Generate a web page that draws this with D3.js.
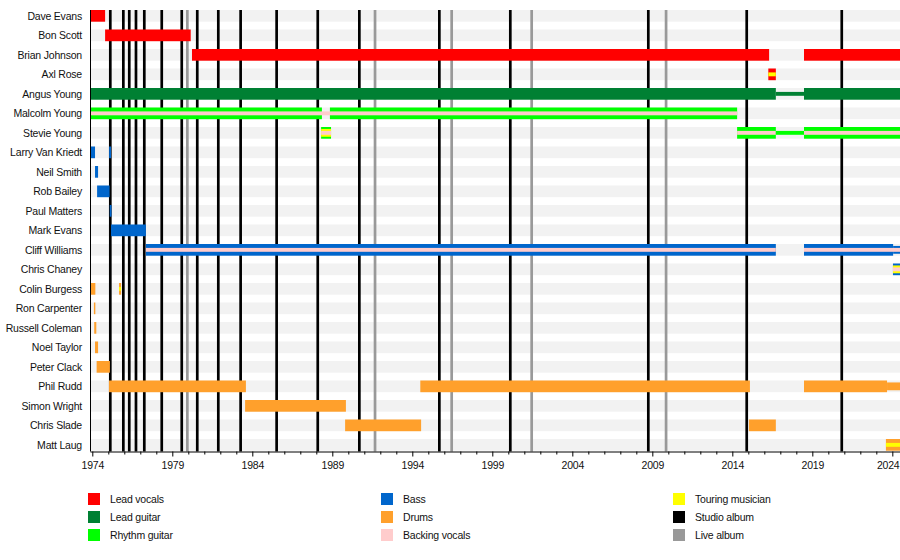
<!DOCTYPE html>
<html>
<head>
<meta charset="utf-8">
<script src="https://cdn.jsdelivr.net/npm/d3@7"></script>
<style>
  html, body { margin: 0; padding: 0; background: #fff; }
  svg { display: block; font-family: "Liberation Sans", Arial, sans-serif; }
</style>
</head>
<body>
<svg id="chart" width="900" height="560"></svg>
<script>
// ---------------- DATA ----------------
const members = [
  "Dave Evans", "Bon Scott", "Brian Johnson", "Axl Rose", "Angus Young",
  "Malcolm Young", "Stevie Young", "Larry Van Kriedt", "Neil Smith", "Rob Bailey",
  "Paul Matters", "Mark Evans", "Cliff Williams", "Chris Chaney", "Colin Burgess",
  "Ron Carpenter", "Russell Coleman", "Noel Taylor", "Peter Clack", "Phil Rudd",
  "Simon Wright", "Chris Slade", "Matt Laug"
];

const roles = ["Lead vocals", "Lead guitar", "Rhythm guitar", "Bass", "Drums", "Backing vocals", "Touring musician"];
const roleColors = ["#ff0000", "#008033", "#00ff00", "#0066cc", "#ffa02c", "#ffcccc", "#ffff00"];
const albumTypes = ["Studio album", "Live album"];
const albumColors = ["#000000", "#999999"];

const START = 1973.856, END = 2024.48;

// segments: [member, role, start, end, size]  size: 1 = full bar, 0.667 = two-thirds, 0.333 = thin stripe
const segments = [
  ["Dave Evans", "Lead vocals", 1973.9, 1974.8, 1],
  ["Bon Scott", "Lead vocals", 1974.8, 1980.15, 1],
  ["Brian Johnson", "Lead vocals", 1980.23, 2016.3, 1],
  ["Brian Johnson", "Lead vocals", 2018.48, END, 1],
  ["Axl Rose", "Lead vocals", 2016.25, 2016.72, 1],
  ["Axl Rose", "Touring musician", 2016.25, 2016.72, 0.333],
  ["Angus Young", "Lead guitar", 1973.9, 2016.72, 1],
  ["Angus Young", "Lead guitar", 2016.72, 2018.48, 0.333],
  ["Angus Young", "Lead guitar", 2018.48, END, 1],
  ["Malcolm Young", "Rhythm guitar", 1973.9, 1988.35, 1],
  ["Malcolm Young", "Rhythm guitar", 1988.85, 2014.3, 1],
  ["Malcolm Young", "Backing vocals", 1973.9, 2014.3, 0.333],
  ["Stevie Young", "Rhythm guitar", 1988.3, 1988.92, 1],
  ["Stevie Young", "Touring musician", 1988.3, 1988.92, 0.667],
  ["Stevie Young", "Backing vocals", 1988.3, 1988.92, 0.333],
  ["Stevie Young", "Rhythm guitar", 2014.3, 2016.72, 1],
  ["Stevie Young", "Backing vocals", 2014.3, 2016.72, 0.333],
  ["Stevie Young", "Rhythm guitar", 2016.72, 2018.48, 0.333],
  ["Stevie Young", "Rhythm guitar", 2018.48, END, 1],
  ["Stevie Young", "Backing vocals", 2018.48, END, 0.333],
  ["Larry Van Kriedt", "Bass", 1973.9, 1974.17, 1],
  ["Larry Van Kriedt", "Bass", 1975.05, 1975.17, 1],
  ["Neil Smith", "Bass", 1974.17, 1974.36, 1],
  ["Rob Bailey", "Bass", 1974.3, 1975.08, 1],
  ["Paul Matters", "Bass", 1975.09, 1975.2, 1],
  ["Mark Evans", "Bass", 1975.17, 1977.35, 1],
  ["Cliff Williams", "Bass", 1977.35, 2016.72, 1],
  ["Cliff Williams", "Backing vocals", 1977.35, 2016.72, 0.333],
  ["Cliff Williams", "Bass", 2018.48, 2024.05, 1],
  ["Cliff Williams", "Bass", 2024.05, END, 0.667],
  ["Cliff Williams", "Backing vocals", 2018.48, END, 0.333],
  ["Chris Chaney", "Bass", 2024.04, END, 1],
  ["Chris Chaney", "Touring musician", 2024.04, END, 0.667],
  ["Chris Chaney", "Backing vocals", 2024.04, END, 0.333],
  ["Colin Burgess", "Drums", 1973.9, 1974.19, 1],
  ["Colin Burgess", "Drums", 1975.67, 1975.8, 1],
  ["Colin Burgess", "Touring musician", 1975.67, 1975.8, 0.333],
  ["Ron Carpenter", "Drums", 1974.1, 1974.19, 1],
  ["Russell Coleman", "Drums", 1974.12, 1974.25, 1],
  ["Noel Taylor", "Drums", 1974.17, 1974.36, 1],
  ["Peter Clack", "Drums", 1974.27, 1975.1, 1],
  ["Phil Rudd", "Drums", 1975.04, 1983.6, 1],
  ["Phil Rudd", "Drums", 1994.5, 2015.1, 1],
  ["Phil Rudd", "Drums", 2018.48, 2023.67, 1],
  ["Phil Rudd", "Drums", 2023.67, END, 0.667],
  ["Simon Wright", "Drums", 1983.55, 1989.85, 1],
  ["Chris Slade", "Drums", 1989.8, 1994.55, 1],
  ["Chris Slade", "Drums", 2015.04, 2016.72, 1],
  ["Matt Laug", "Drums", 2023.6, END, 1],
  ["Matt Laug", "Touring musician", 2023.6, END, 0.333]
];

const studioAlbums = [1975.125, 1975.94, 1976.31, 1976.73, 1977.25, 1978.34, 1979.59, 1980.56,
  1981.875, 1983.27, 1985.52, 1988.09, 1990.69, 1995.69, 2000.125, 2008.75, 2014.9, 2020.84];
const liveAlbums = [1979.94, 1991.67, 1996.46, 2001.46, 2009.86];

const majorTicks = [1974, 1979, 1984, 1989, 1994, 1999, 2004, 2009, 2014, 2019, 2024];
const minorTicks = d3.range(1975, 2025).filter(y => !majorTicks.includes(y));

const legendItems = [
  ["Lead vocals", "#ff0000"], ["Lead guitar", "#008033"], ["Rhythm guitar", "#00ff00"],
  ["Bass", "#0066cc"], ["Drums", "#ffa02c"], ["Backing vocals", "#ffcccc"],
  ["Touring musician", "#ffff00"], ["Studio album", "#000000"], ["Live album", "#999999"]
];

// ---------------- CHART ----------------
const svg = d3.select("#chart");
const color = d3.scaleOrdinal().domain(roles).range(roleColors);
const albumColor = d3.scaleOrdinal().domain(albumTypes).range(albumColors);

const x = d3.scaleLinear().domain([START, END]).range([90, 900]);
const y = d3.scaleBand().domain(members).range([6.1, 454.6]).paddingInner(0.4).paddingOuter(0.2);
const bw = y.bandwidth();
const axisY = 451.5;

// row backgrounds
svg.append("g").selectAll("rect").data(members).join("rect")
  .attr("x", x(START)).attr("width", x(END) - x(START))
  .attr("y", d => y(d)).attr("height", bw)
  .attr("fill", "#f2f2f2");

// album lines
const albums = studioAlbums.map(v => ({v, t: "Studio album"})).concat(liveAlbums.map(v => ({v, t: "Live album"})));
svg.append("g").selectAll("line").data(albums).join("line")
  .attr("x1", d => x(d.v)).attr("x2", d => x(d.v))
  .attr("y1", y(members[0])).attr("y2", axisY)
  .attr("stroke", d => albumColor(d.t)).attr("stroke-width", 2.7);

// bars
svg.append("g").selectAll("rect").data(segments).join("rect")
  .attr("x", d => x(d[2]))
  .attr("width", d => Math.max(1, x(d[3]) - x(d[2])))
  .attr("y", d => y(d[0]) + bw * (1 - d[4]) / 2)
  .attr("height", d => bw * d[4])
  .attr("fill", d => color(d[1]));

// member labels
svg.append("g").selectAll("text").data(members).join("text")
  .attr("x", 82).attr("y", d => y(d) + bw / 2)
  .attr("dy", "0.35em").attr("text-anchor", "end")
  .attr("font-size", 10.5).attr("letter-spacing", -0.2).attr("fill", "#111")
  .text(d => d);

// axis
const axis = d3.axisBottom(x).tickValues(majorTicks).tickFormat(d3.format("d")).tickSize(5).tickSizeOuter(0);
const gAxis = svg.append("g").attr("transform", `translate(0,${axisY})`).call(axis);
gAxis.select(".domain").attr("stroke", "#000");
gAxis.selectAll("text").attr("font-size", 10.5).attr("font-family", "Liberation Sans, Arial, sans-serif")
  .attr("letter-spacing", -0.2).attr("fill", "#111").attr("dy", "0.95em");
// keep the last label inside the picture
gAxis.selectAll(".tick").filter(d => d === majorTicks[majorTicks.length - 1]).select("text")
  .attr("text-anchor", "end").attr("x", 900 - x(majorTicks[majorTicks.length - 1]) - 1);
const minorAxis = d3.axisBottom(x).tickValues(minorTicks).tickFormat("").tickSize(3).tickSizeOuter(0);
const gMinor = svg.append("g").attr("transform", `translate(0,${axisY})`).call(minorAxis);
gMinor.select(".domain").remove();

// left axis line
svg.append("line").attr("x1", 90.5).attr("x2", 90.5).attr("y1", y(members[0])).attr("y2", axisY)
  .attr("stroke", "#000").attr("stroke-width", 1);

// legend
const legendCols = [88, 381, 673];
const legendRows = [493, 511, 529];
const lg = svg.append("g").selectAll("g").data(legendItems).join("g")
  .attr("transform", (d, i) => `translate(${legendCols[Math.floor(i / 3)]},${legendRows[i % 3]})`);
lg.append("rect").attr("width", 12).attr("height", 12).attr("fill", d => d[1]);
lg.append("text").attr("x", 22).attr("y", 6).attr("dy", "0.35em")
  .attr("font-size", 10.5).attr("letter-spacing", -0.2).attr("fill", "#111").text(d => d[0]);
</script>
</body>
</html>
